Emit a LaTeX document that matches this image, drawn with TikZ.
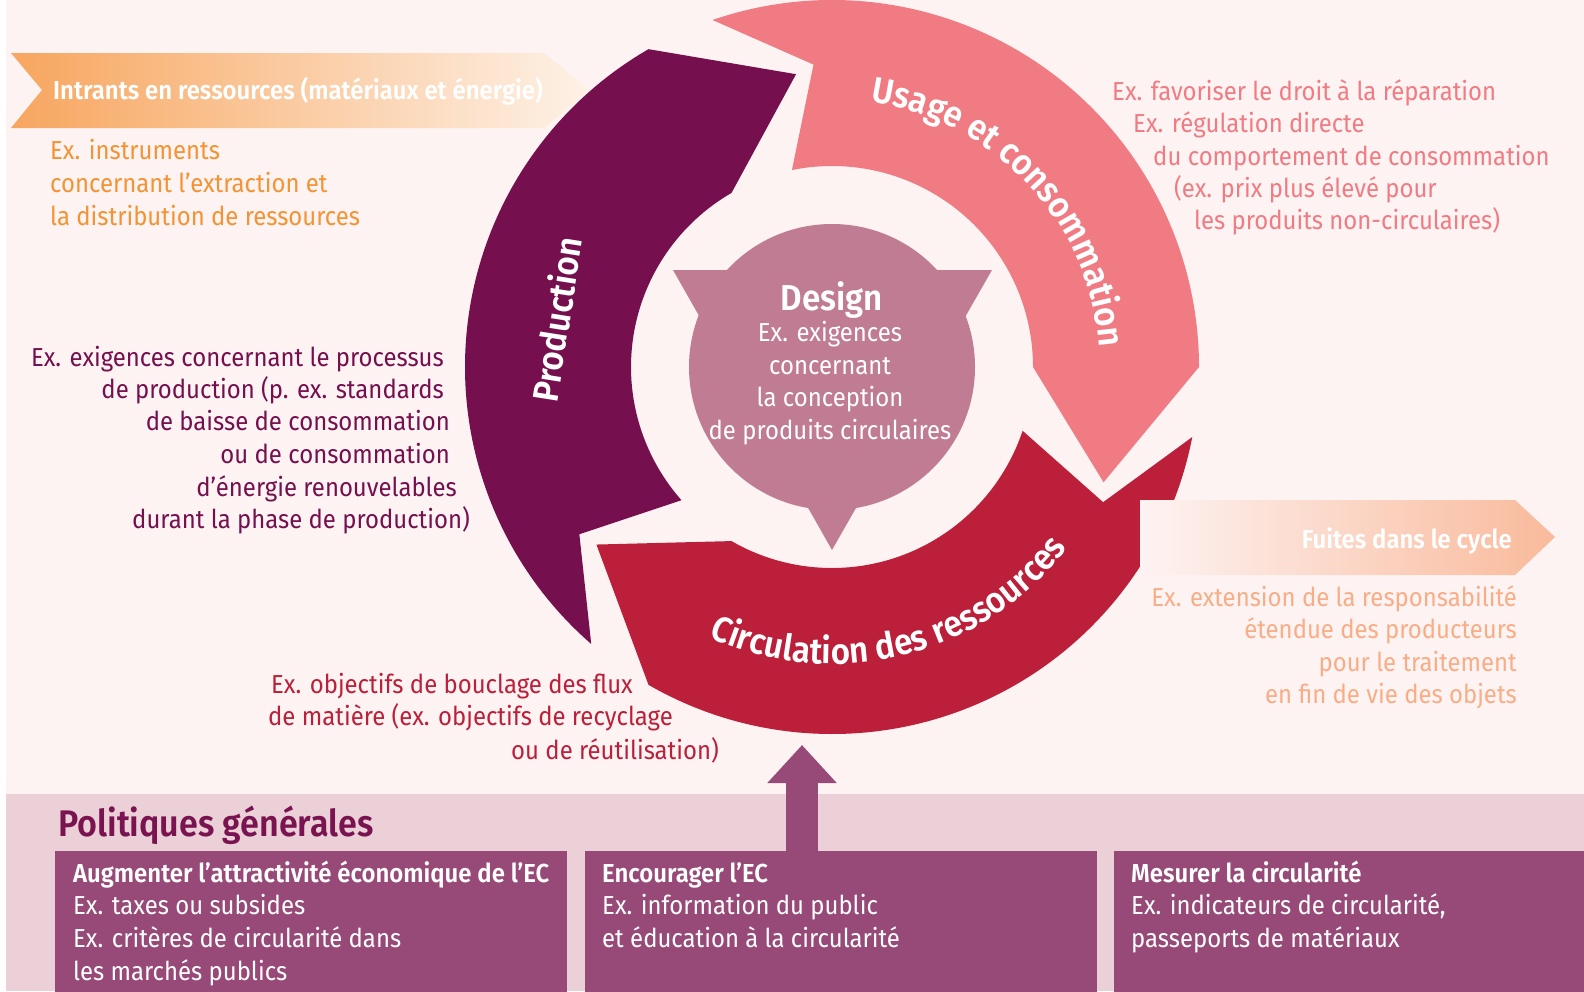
\documentclass[tikz,border=0pt]{standalone}
\usepackage{fontspec}
\setmainfont{Fira Sans}[FakeStretch=0.92, BoldFont={Fira Sans SemiBold}]
\usetikzlibrary{arrows.meta,decorations.text}
\definecolor{bgcol}{HTML}{FDF3F2}
\definecolor{bandcol}{HTML}{EBD0D8}
\definecolor{boxcol}{HTML}{974A77}
\definecolor{prodcol}{HTML}{760F4E}
\definecolor{usagecol}{HTML}{F17B83}
\definecolor{circcol}{HTML}{BB1F3A}
\definecolor{designcol}{HTML}{C07C93}
\definecolor{intrcol}{HTML}{F7A65F}
\definecolor{intrtxtcol}{HTML}{F39333}
\definecolor{fuitcol}{HTML}{F9BA9B}
\definecolor{fuittxtcol}{HTML}{F9AD86}
\definecolor{titlecol}{HTML}{7A1450}
\newcommand\arcfont{\fontsize{36}{36}\selectfont\bfseries}
\newcommand\bodyfont{\fontsize{26}{32}\selectfont}

\begin{document}
\begin{tikzpicture}[x=1pt, y=-1pt, font=\bodyfont,
    exline/.style={inner sep=0pt},
    polbox/.style={fill=boxcol, inner sep=0pt, anchor=north west}]

    % page, background and band of the general policies
    \useasboundingbox (0,0) rectangle (1584,991);
    \fill[bgcol] (6,0) rectangle (1584,991);
    \fill[bandcol] (6,794) rectangle (1584,991);

    % the three arrows of the cycle
    \begin{scope}[shift={(832,367)}]
        \foreach \a/\col in {131/prodcol, 251/usagecol, 11/circcol} {
            \fill[\col] (\a:367) arc[start angle=\a, end angle={\a+109}, radius=367]
                -- ({\a+132}:295) -- ({\a+109}:201)
                arc[start angle={\a+109}, end angle={\a+7.5}, radius=201]
                -- ({\a+15.5}:303) -- cycle;
        }
    \end{scope}

    % design in the middle
    \fill[designcol] (832,367) circle[radius=143];
    \fill[designcol] (673,270) -- (992,270) -- (832,550) -- cycle;
    \node[exline, anchor=base, text=white, font=\fontsize{36}{36}\selectfont\bfseries] (design) at (832,310) {Design};
    \foreach \yy/\txt [count=\i] in {341/Ex. exigences, 374/concernant, 406/la conception, 439/de produits circulaires} {
        \node[exline, anchor=base, text=white] (designex\i) at (830,\yy) {\txt};
    }

    % labels of the arrows
    \node[rotate=81, text=white, font=\arcfont] (prodlbl) at (556,319) {Production};
    \path[decorate, decoration={text along path, text={|\arcfont|Usage et consommation},
        text align=center, text color=white}] (832,367) ++(268:268) arc[start angle=268, end angle=366, radius=268];
    \path[decorate, decoration={text along path, text={|\arcfont|Circulation des ressources},
        text align=center, text color=white}] (832,367) ++(126:297) arc[start angle=126, end angle=26, radius=297];

    % banner of the inputs
    \shade[left color=intrcol, middle color=intrcol, right color=intrcol!15!white]
        (11,53) -- (544,53) -- (590,90) -- (544,128) -- (11,128) -- (42,90) -- cycle;
    \node[exline, anchor=base west, text=white, font=\bodyfont\bfseries] (intrants) at (53,99) {Intrants en ressources (matériaux et énergie)};
    \foreach \yy/\txt [count=\i] in {159/Ex. instruments, 192/concernant l’extraction et, 225/la distribution de ressources} {
        \node[exline, anchor=base west, text=intrtxtcol] (intrex\i) at (50,\yy) {\txt};
    }

    % banner of the leaks
    \shade[left color=bgcol, middle color=fuitcol, right color=fuitcol]
        (1140,500) -- (1515,500) -- (1555,537) -- (1515,575) -- (1140,575) -- cycle;
    \node[exline, anchor=base east, text=white, font=\bodyfont\bfseries] (fuites) at (1512,548) {Fuites dans le cycle};
    \foreach \yy/\txt [count=\i] in {606/Ex. extension de la responsabilité, 638/étendue des producteurs, 671/pour le traitement, 703/en fin de vie des objets} {
        \node[exline, anchor=base east, text=fuittxtcol] (fuitesex\i) at (1517,\yy) {\txt};
    }

    % examples next to the arrows
    \foreach \xx/\yy/\txt [count=\i] in {1112/100/Ex. favoriser le droit à la réparation, 1133/132/Ex. régulation directe,
        1153/165/du comportement de consommation, 1174/197/(ex. prix plus élevé pour, 1194/229/les produits non-circulaires)} {
        \node[exline, anchor=base west, text=usagecol] (usageex\i) at (\xx,\yy) {\txt};
    }
    \foreach \xx/\yy/\txt [count=\i] in {444/366/Ex. exigences concernant le processus, 444/398/de production (p. ex. standards,
        450/430/de baisse de consommation, 450/463/ou de consommation, 457/496/d’énergie renouvelables, 470/528/durant la phase de production)} {
        \node[exline, anchor=base east, text=prodcol] (prodex\i) at (\xx,\yy) {\txt};
    }
    \foreach \xx/\yy/\txt [count=\i] in {633/693/Ex. objectifs de bouclage des flux, 673/725/de matière (ex. objectifs de recyclage,
        719/759/ou de réutilisation)} {
        \node[exline, anchor=base east, text=circcol] (circex\i) at (\xx,\yy) {\txt};
    }

    % general policies
    \node[exline, anchor=base west, text=titlecol, font=\fontsize{37}{37}\selectfont\bfseries] (politiques) at (58,836) {Politiques générales};
    \node[polbox, minimum width=512pt, minimum height=145pt] (box1) at (55,851) {};
    \node[polbox, minimum width=512pt, minimum height=145pt] (box2) at (585,851) {};
    \node[polbox, minimum width=475pt, minimum height=145pt] (box3) at (1114,851) {};
    \foreach \yy/\txt [count=\i] in {882/{\bfseries Augmenter l’attractivité économique de l’EC}, 914/Ex. taxes ou subsides,
        947/Ex. critères de circularité dans, 980/les marchés publics} {
        \node[exline, anchor=base west, text=white] (box1txt\i) at (73,\yy) {\txt};
    }
    \foreach \yy/\txt [count=\i] in {882/{\bfseries Encourager l’EC}, 914/Ex. information du public, 947/et éducation à la circularité} {
        \node[exline, anchor=base west, text=white] (box2txt\i) at (602,\yy) {\txt};
    }
    \foreach \yy/\txt [count=\i] in {882/{\bfseries Mesurer la circularité}, 914/{Ex. indicateurs de circularité,}, 947/passeports de matériaux} {
        \node[exline, anchor=base west, text=white] (box3txt\i) at (1131,\yy) {\txt};
    }

    % arrow from the policies up to the cycle
    \coordinate (arrowfoot) at (802,851);
    \coordinate (arrowtip) at (802,745);
    \draw[boxcol, line width=32pt, -{Triangle[width=67pt, length=38pt]}] (arrowfoot) -- (arrowtip);
\end{tikzpicture}
\end{document}
